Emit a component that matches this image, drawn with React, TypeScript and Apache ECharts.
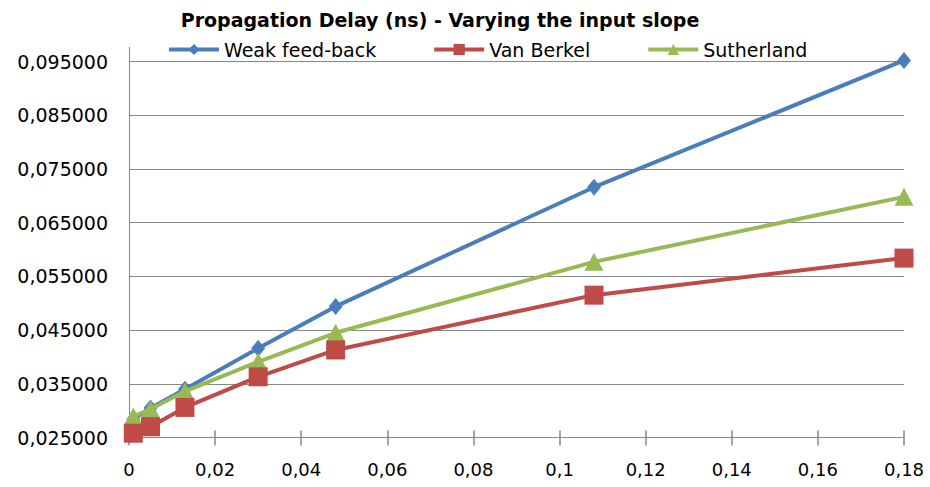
import React, { useEffect, useRef } from "react";
import * as echarts from "echarts";

const titleText = "Propagation Delay (ns) - Varying the input slope";
const xValues = [0.001, 0.005, 0.013, 0.03, 0.048, 0.108, 0.18];
const weakFeedBack = [0.0284, 0.0305, 0.034, 0.0416, 0.0494, 0.0716, 0.0952];
const vanBerkel = [0.0258, 0.027, 0.0306, 0.0363, 0.0413, 0.0515, 0.0584];
const sutherland = [0.0289, 0.0303, 0.0336, 0.0391, 0.0445, 0.0577, 0.0698];
const seriesNames = ["Weak feed-back", "Van Berkel", "Sutherland"];
const colors = ["#4A7EBB", "#BE4B48", "#98B954"];

const FONT = "DejaVu Sans";
const GRID_COLOR = "#878787";

export default function App() {
  const ref = useRef<HTMLDivElement>(null);
  useEffect(() => {
    if (!ref.current) return;
    const chart = echarts.init(ref.current, undefined, { renderer: "svg" });
    const pairs = (ys: number[]) => xValues.map((x, i) => [x, ys[i]]);
    const gridLeft = 129;
    const gridTop = 61.5;
    chart.setOption({
      animation: false,
      backgroundColor: "#ffffff",
      title: {
        text: titleText,
        left: 440,
        top: 10,
        padding: 0,
        textAlign: "center",
        textStyle: { fontFamily: FONT, fontSize: 19, fontWeight: "bold", color: "#000" },
      },
      legend: {
        data: seriesNames,
        left: 167,
        top: 40,
        padding: 0,
        itemWidth: 50,
        itemHeight: 14,
        itemGap: 56,
        lineStyle: { width: 4 },
        textStyle: { fontFamily: FONT, fontSize: 19, color: "#000" },
      },
      grid: { left: gridLeft, right: 26, top: gridTop, bottom: 49.5 },
      xAxis: [
        {
          type: "value",
          min: 0,
          max: 0.18,
          interval: 0.02,
          position: "bottom",
          axisLine: { show: true, lineStyle: { color: GRID_COLOR, width: 1 } },
          axisTick: { show: true, inside: false, length: 8, lineStyle: { color: GRID_COLOR, width: 1.5 } },
          splitLine: { show: false },
          axisLabel: {
            margin: 23,
            fontFamily: FONT,
            fontSize: 18,
            color: "#000",
            formatter: (v: number) => String(parseFloat(v.toFixed(2))).replace(".", ","),
          },
        },
        {
          type: "value",
          min: 0,
          max: 0.18,
          interval: 0.02,
          position: "bottom",
          offset: 0,
          axisLine: { show: false },
          axisTick: { show: true, inside: true, length: 7, lineStyle: { color: GRID_COLOR, width: 1.5 } },
          splitLine: { show: false },
          axisLabel: { show: false },
        },
      ],
      yAxis: {
        type: "value",
        min: 0.025,
        max: 0.095,
        interval: 0.01,
        axisLine: { show: true, lineStyle: { color: GRID_COLOR, width: 1 } },
        axisTick: { show: false },
        splitLine: { show: true, lineStyle: { color: GRID_COLOR, width: 1 } },
        axisLabel: {
          margin: 21,
          fontFamily: FONT,
          fontSize: 19,
          color: "#000",
          formatter: (v: number) => v.toFixed(6).replace(".", ","),
        },
      },
      graphic: [
        {
          type: "line",
          shape: { x1: gridLeft + 0.5, y1: 47, x2: gridLeft + 0.5, y2: gridTop },
          style: { stroke: GRID_COLOR, lineWidth: 1 },
          silent: true,
        },
      ],
      series: [
        {
          name: seriesNames[0],
          type: "line",
          data: pairs(weakFeedBack),
          z: 2,
          clip: false,
          symbol: "diamond",
          symbolSize: [14, 17],
          lineStyle: { width: 4, color: colors[0] },
          itemStyle: { color: colors[0] },
        },
        {
          name: seriesNames[1],
          type: "line",
          data: pairs(vanBerkel),
          z: 4,
          clip: false,
          symbol: "rect",
          symbolSize: 19,
          lineStyle: { width: 4, color: colors[1] },
          itemStyle: { color: colors[1] },
        },
        {
          name: seriesNames[2],
          type: "line",
          data: pairs(sutherland),
          z: 3,
          clip: false,
          symbol: "triangle",
          symbolSize: [19, 18],
          lineStyle: { width: 4, color: colors[2] },
          itemStyle: { color: colors[2] },
        },
      ],
    });
    return () => chart.dispose();
  }, []);
  return (
    <div
      ref={ref}
      style={{ position: "fixed", left: 0, top: 0, width: 930, height: 487, background: "#fff" }}
    />
  );
}
